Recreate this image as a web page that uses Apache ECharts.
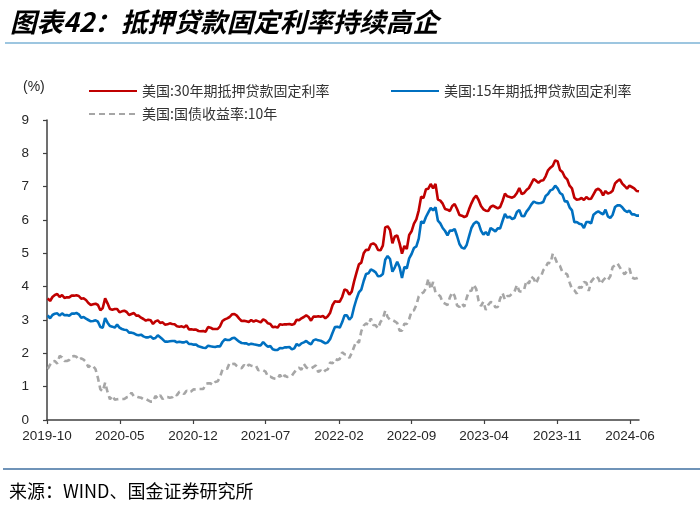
<!DOCTYPE html>
<html>
<head>
<meta charset="utf-8">
<script src="https://cdn.jsdelivr.net/npm/echarts@6/dist/echarts.min.js"></script>
<style>
html,body{margin:0;padding:0;background:#fff;}
#chart{width:700px;height:510px;}
</style>
</head>
<body>
<div id="chart"></div>
<script>
// Weekly observations (Thursdays) starting from this date
const firstWeek = '2019-10-03';

const seriesNames = ['美国:30年期抵押贷款固定利率', '美国:15年期抵押贷款固定利率', '美国:国债收益率:10年'];

const tickLabels = ['2019-10','2020-05','2020-12','2021-07','2022-02','2022-09','2023-04','2023-11','2024-06'];
const yTicks = [0,1,2,3,4,5,6,7,8,9];

// 30-year fixed mortgage rate (one line per month)
const rate30 = [
  3.65,3.57,3.69,3.75,3.78,
  3.69,3.75,3.66,3.68,
  3.68,3.73,3.73,3.74,
  3.72,3.64,3.65,3.60,3.51,
  3.45,3.47,3.49,3.45,
  3.29,3.36,3.65,3.50,
  3.33,3.31,3.33,3.33,3.23,
  3.26,3.28,3.24,3.15,
  3.18,3.21,3.13,3.13,
  3.07,3.03,2.98,3.01,2.99,
  2.88,2.96,2.99,2.91,
  2.93,2.86,2.87,2.90,
  2.88,2.87,2.81,2.80,2.81,
  2.78,2.84,2.72,2.72,
  2.71,2.71,2.67,2.66,2.67,
  2.65,2.79,2.77,2.73,
  2.73,2.73,2.81,2.97,
  3.02,3.05,3.09,3.17,
  3.18,3.13,3.04,2.97,2.98,
  2.96,2.94,3.00,2.95,
  2.99,2.96,2.93,3.02,
  2.98,2.90,2.88,2.78,2.80,
  2.77,2.87,2.86,2.87,
  2.87,2.88,2.86,2.88,3.01,
  2.99,3.05,3.09,3.14,
  3.09,2.98,3.10,3.10,
  3.11,3.10,3.12,3.05,3.11,
  3.22,3.45,3.56,3.55,
  3.55,3.69,3.92,3.89,
  3.76,3.85,4.16,4.42,4.67,
  4.72,5.00,5.11,5.10,
  5.27,5.30,5.25,5.10,
  5.09,5.23,5.78,5.81,5.70,
  5.30,5.51,5.54,5.30,
  4.99,5.22,5.13,5.55,
  5.66,5.89,6.02,6.29,6.70,
  6.66,6.92,6.94,7.08,
  6.95,7.08,6.61,6.58,
  6.49,6.33,6.31,6.27,6.42,
  6.48,6.33,6.15,6.13,
  6.09,6.12,6.32,6.50,
  6.65,6.73,6.60,6.42,6.32,
  6.28,6.27,6.39,6.43,
  6.39,6.35,6.39,6.57,
  6.79,6.71,6.69,6.67,6.71,
  6.81,6.96,6.78,6.81,
  6.90,6.96,7.09,7.23,7.18,
  7.12,7.18,7.19,7.31,
  7.49,7.57,7.63,7.79,
  7.76,7.50,7.44,7.29,7.22,
  7.03,6.95,6.67,6.61,
  6.62,6.66,6.60,6.69,
  6.63,6.64,6.77,6.90,6.94,
  6.88,6.74,6.87,6.79,
  6.82,6.88,7.10,7.17,
  7.22,7.09,7.02,6.94,7.03,
  6.99,6.95,6.87,6.86
];

// 15-year fixed mortgage rate
const rate15 = [
  3.14,3.05,3.15,3.19,3.20,
  3.13,3.20,3.14,3.15,
  3.13,3.19,3.19,3.21,
  3.17,3.07,3.09,3.04,3.00,
  2.96,2.97,2.99,2.95,
  2.79,2.77,3.06,2.92,
  2.82,2.80,2.77,2.86,2.77,
  2.73,2.71,2.70,2.62,
  2.62,2.60,2.56,2.54,
  2.56,2.51,2.48,2.48,2.51,
  2.44,2.46,2.54,2.48,
  2.42,2.35,2.35,2.36,
  2.37,2.37,2.33,2.35,2.33,
  2.33,2.36,2.28,2.28,
  2.26,2.26,2.21,2.19,2.17,
  2.16,2.23,2.21,2.20,
  2.19,2.21,2.21,2.34,
  2.42,2.40,2.40,2.45,
  2.47,2.41,2.35,2.31,2.30,
  2.30,2.26,2.29,2.27,
  2.26,2.24,2.24,2.34,
  2.26,2.20,2.22,2.12,2.10,
  2.10,2.16,2.15,2.18,
  2.18,2.19,2.12,2.15,2.28,
  2.23,2.30,2.33,2.37,
  2.31,2.27,2.39,2.42,
  2.39,2.38,2.34,2.30,2.33,
  2.43,2.62,2.79,2.80,
  2.77,2.93,3.14,3.14,
  3.01,3.09,3.39,3.63,3.83,
  3.91,4.17,4.38,4.40,
  4.52,4.48,4.43,4.31,
  4.32,4.38,4.81,4.92,4.83,
  4.45,4.58,4.75,4.58,
  4.26,4.59,4.55,4.85,
  4.98,5.16,5.21,5.44,5.96,
  5.90,6.09,6.23,6.36,
  6.29,6.38,5.98,5.90,
  5.76,5.67,5.54,5.68,5.68,
  5.73,5.52,5.28,5.17,
  5.14,5.25,5.51,5.76,
  5.89,5.95,5.90,5.68,5.56,
  5.64,5.54,5.76,5.71,
  5.66,5.75,5.75,5.97,
  6.18,6.07,6.10,6.03,6.06,
  6.24,6.30,6.12,6.11,
  6.25,6.34,6.46,6.55,6.52,
  6.50,6.51,6.54,6.72,
  6.78,6.89,6.92,7.03,
  6.95,6.81,6.76,6.56,6.56,
  6.38,6.29,5.93,5.94,
  5.89,5.87,5.76,5.94,
  5.94,5.90,6.16,6.22,6.26,
  6.21,6.17,6.31,6.11,
  6.06,6.16,6.39,6.44,
  6.44,6.38,6.29,6.24,6.28,
  6.17,6.17,6.13,6.13
];

// 10-year Treasury yield
const ust10 = [
  1.53,1.66,1.76,1.77,1.69,
  1.92,1.88,1.77,1.77,
  1.80,1.90,1.92,1.90,
  1.80,1.85,1.81,1.74,1.58,
  1.65,1.62,1.52,1.26,
  0.92,0.86,1.12,0.84,
  0.62,0.73,0.61,0.62,0.63,
  0.63,0.63,0.68,0.70,
  0.82,0.71,0.71,0.68,
  0.67,0.62,0.63,0.59,0.55,
  0.55,0.72,0.65,0.74,
  0.63,0.68,0.69,0.67,
  0.68,0.77,0.74,0.85,0.84,
  0.78,0.88,0.83,0.86,
  0.92,0.91,0.93,0.93,0.93,
  1.08,1.10,1.10,1.05,
  1.14,1.16,1.29,1.51,
  1.54,1.54,1.71,1.68,
  1.69,1.62,1.57,1.55,1.65,
  1.58,1.66,1.63,1.61,
  1.63,1.49,1.51,1.49,
  1.45,1.30,1.30,1.26,1.24,
  1.23,1.36,1.24,1.34,
  1.29,1.30,1.33,1.43,1.52,
  1.57,1.51,1.68,1.58,
  1.53,1.55,1.59,1.64,
  1.44,1.49,1.42,1.49,1.52,
  1.73,1.70,1.83,1.80,
  1.83,2.03,1.97,1.96,
  1.86,2.01,2.20,2.37,2.32,
  2.66,2.83,2.90,2.85,
  3.05,2.85,2.84,2.75,
  2.94,3.04,3.28,3.09,3.01,
  3.00,2.96,2.91,2.68,
  2.68,2.89,2.88,3.03,
  3.26,3.29,3.45,3.71,3.79,
  3.83,3.95,4.24,3.92,
  4.14,3.82,3.77,3.71,
  3.53,3.49,3.45,3.68,3.83,
  3.72,3.44,3.39,3.50,
  3.40,3.66,3.87,3.88,
  4.06,3.93,3.58,3.42,3.55,
  3.30,3.45,3.54,3.53,
  3.38,3.39,3.64,3.81,
  3.61,3.72,3.72,3.80,3.85,
  4.05,3.86,3.85,3.91,
  4.18,4.09,4.30,4.24,4.09,
  4.27,4.29,4.49,4.59,
  4.72,4.70,4.99,4.85,
  4.67,4.62,4.44,4.41,4.37,
  4.13,3.93,3.89,3.79,
  3.99,3.97,4.14,4.12,
  3.87,4.15,4.24,4.32,4.25,
  4.08,4.19,4.27,4.20,
  4.31,4.59,4.64,4.70,
  4.58,4.46,4.37,4.47,4.55,
  4.28,4.24,4.25,4.29
];

const WEEK = 7 * 24 * 3600 * 1000;
const p = firstWeek.split('-').map(Number);
const t0 = Date.UTC(p[0], p[1] - 1, p[2]);
const dates = rate30.map((_, i) => t0 + i * WEEK);
const pair = arr => arr.map((v, i) => [dates[i], v]);

const tickTimes = tickLabels.map(s => { const q = s.split('-').map(Number); return Date.UTC(q[0], q[1] - 1, 1); });
const fmt = v => { const d = new Date(v); return d.getUTCFullYear() + '-' + String(d.getUTCMonth() + 1).padStart(2, '0'); };

const chart = echarts.init(document.getElementById('chart'), null, {renderer: 'canvas'});
const legendText = {fontFamily: 'Noto Sans CJK SC', fontSize: 14, color: '#333'};
const axisFont = {fontFamily: 'Liberation Sans', fontSize: 13.5, color: '#262626'};
const legendBase = {itemWidth: 48, itemHeight: 14, textStyle: legendText, itemStyle: {opacity: 0}};

chart.setOption({
  animation: false,
  backgroundColor: '#fff',
  grid: {left: 47, right: 61, top: 120, bottom: 90, containLabel: false},
  legend: [
    Object.assign({data: [seriesNames[0]], left: 83, top: 79}, legendBase),
    Object.assign({data: [seriesNames[1]], left: 385, top: 79}, legendBase),
    Object.assign({data: [seriesNames[2]], left: 83, top: 102}, legendBase)
  ],
  xAxis: {
    type: 'value',
    min: Date.UTC(2019, 9, 1),
    max: dates[dates.length - 1],
    axisLine: {show: true, onZero: false, lineStyle: {color: '#404040', width: 1.5}},
    axisTick: {show: true, length: 4, inside: false, customValues: tickTimes, lineStyle: {color: '#404040', width: 1.2}},
    axisLabel: {customValues: tickTimes, formatter: fmt, margin: 9, hideOverlap: false, ...axisFont},
    splitLine: {show: false}
  },
  yAxis: {
    type: 'value',
    min: yTicks[0], max: yTicks[yTicks.length - 1], interval: 1,
    axisLine: {show: true, lineStyle: {color: '#404040', width: 1.5}},
    axisTick: {show: true, length: 4, inside: false, lineStyle: {color: '#404040', width: 1.2}},
    axisLabel: {margin: 18, ...axisFont},
    splitLine: {show: false}
  },
  series: [
    {name: seriesNames[0], type: 'line', data: pair(rate30), showSymbol: false, symbol: 'none',
     lineStyle: {color: '#C00000', width: 2.6}, itemStyle: {color: '#C00000'}, z: 3},
    {name: seriesNames[1], type: 'line', data: pair(rate15), showSymbol: false, symbol: 'none',
     lineStyle: {color: '#0070C0', width: 2.6}, itemStyle: {color: '#0070C0'}, z: 3},
    {name: seriesNames[2], type: 'line', data: pair(ust10), showSymbol: false, symbol: 'none',
     lineStyle: {color: '#A6A6A6', width: 2.6, type: [6, 4]}, itemStyle: {color: '#A6A6A6'}, z: 2}
  ],
  graphic: [
    {type: 'text', left: 10, top: 9, style: {text: '图表42：抵押贷款固定利率持续高企', fontFamily: 'Noto Sans CJK SC', fontSize: 26.5, fontWeight: 'bold', fontStyle: 'italic', fill: '#000'}},
    {type: 'line', shape: {x1: 5, y1: 43, x2: 700, y2: 43}, style: {stroke: '#7DB3D6', lineWidth: 1.5}},
    {type: 'text', left: 23, top: 80, style: {text: '(%)', fontFamily: 'Liberation Sans', fontSize: 14, fill: '#262626'}},
    {type: 'line', shape: {x1: 3, y1: 469, x2: 700, y2: 469}, style: {stroke: '#3F6FA0', lineWidth: 1.5}},
    {type: 'text', left: 9, top: 482, style: {text: '来源：WIND、国金证券研究所', fontFamily: 'Noto Sans CJK SC', fontSize: 18, fill: '#000'}}
  ]
});
</script>
</body>
</html>
